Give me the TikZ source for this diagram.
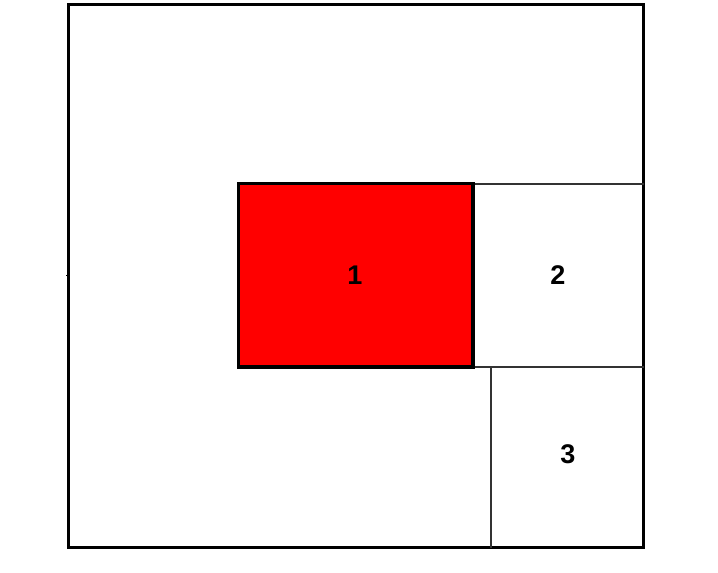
\documentclass[tikz,border=0pt]{standalone}
\usepackage{fontspec}
\setmainfont{Liberation Sans}
\begin{document}
\begin{tikzpicture}[x=1pt,y=-1pt,
  numtext/.style={inner sep=0pt,font=\fontsize{27}{27}\bfseries\selectfont},
  thickline/.style={line width=3.5pt},
  thinline/.style={line width=1.2pt,black!80}]
\useasboundingbox (0,0) rectangle (718,573);
\draw[thickline] (68.5,4.5) rectangle (643.5,547.5);
\draw[thinline] (473,184) -- (643.5,184);
\draw[thinline] (473,367) -- (643.5,367);
\draw[thinline] (491,367) -- (491,547.5);
\draw[thickline,fill=red] (238.7,183.7) rectangle (473,367);
\draw[line width=1pt] (68.5,275) -- (66,275);

\node[numtext] (one) at (355,275) {1};
\node[numtext] (two) at (558,275) {2};
\node[numtext] (three) at (568,454) {3};
\end{tikzpicture}
\end{document}
